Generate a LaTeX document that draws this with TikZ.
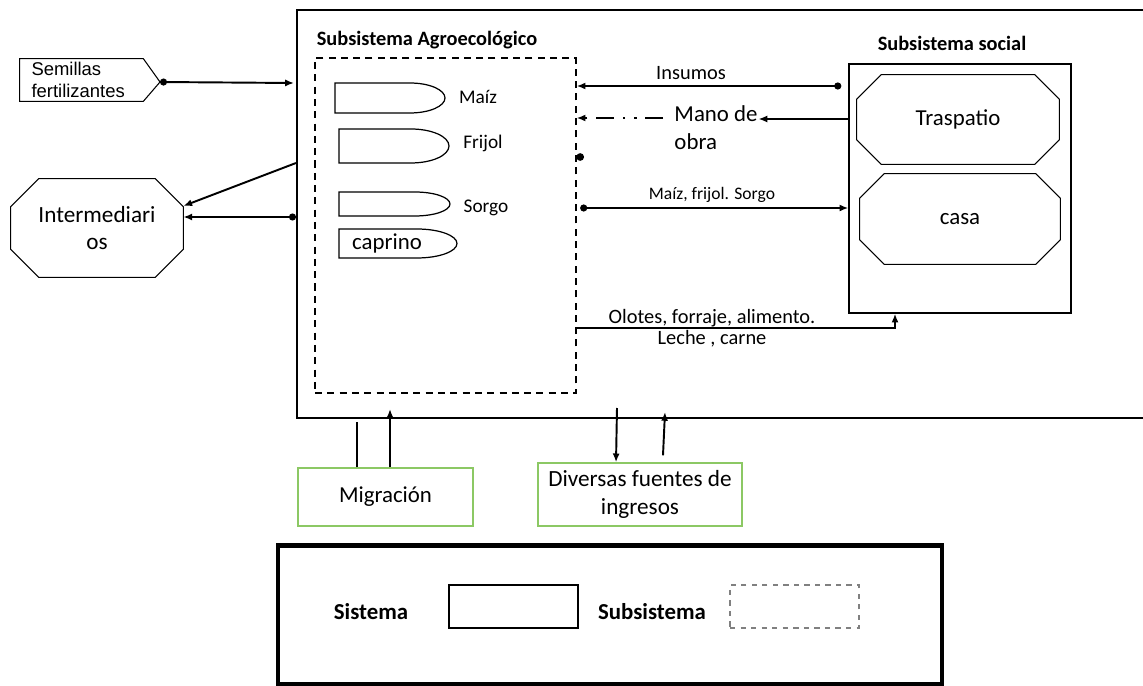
\documentclass[tikz,border=0pt]{standalone}
\usepackage{fontspec}
\setmainfont{Carlito}
\newfontfamily\arialfont{Liberation Sans}
\usetikzlibrary{arrows.meta}
\definecolor{verde}{RGB}{140,200,100}
% octagon drawn round a node: name, cut
\newcommand{\octagono}[2]{%
  \draw[line width=0.6pt] ([xshift=#2]#1.north west) -- ([xshift=-#2]#1.north east)
    -- ([yshift=-#2]#1.north east) -- ([yshift=#2]#1.south east)
    -- ([xshift=-#2]#1.south east) -- ([xshift=#2]#1.south west)
    -- ([yshift=#2]#1.south west) -- ([yshift=-#2]#1.north west) -- cycle;}
% crop shape: left, top, bottom, start of curve, x radius
\newcommand{\bala}[5]{%
  \draw[line width=0.7pt] (#1,#3) -- (#1,#2) -- (#4,#2)
    arc[start angle=90, end angle=-90, x radius=#5, y radius={(#3-#2)*0.01cm}] -- cycle;}
\begin{document}
\begin{tikzpicture}[x=0.02cm,y=-0.02cm]
\tikzstyle{flecha}=[line width=1.1pt,-{Latex[length=5pt,width=4pt]}]
\tikzstyle{puntoflecha}=[line width=1.1pt,{Circle[length=4pt]}-{Latex[length=5pt,width=4pt]}]
\tikzstyle{titulo}=[font=\fontsize{11.6}{13}\selectfont\bfseries]
\tikzstyle{texto}=[font=\fontsize{13}{16}\selectfont, align=center]
\tikzstyle{chico}=[font=\fontsize{11.6}{13}\selectfont, inner sep=1pt]
\tikzstyle{verdecaja}=[draw=verde, line width=0.8pt, texto]
\useasboundingbox (0,0) rectangle (1143,686);
% system
\draw[line width=0.9pt] (1143,10) -- (297,10) -- (297,418) -- (1143,418);
\coordinate (semtip) at (160,82);
\coordinate (sisA) at (294,83);
\coordinate (sisB) at (296,163);
\coordinate (sisC) at (296,217);
\coordinate (sisD) at (357,422);
\coordinate (sisE) at (390,409);
\coordinate (sisF) at (617,408);
\coordinate (sisG) at (665,412);
% agroecological subsystem
\node (agrotit) [titulo] at (427,40) {Subsistema Agroecológico};
\node (agro) [draw, line width=0.8pt, dash pattern=on 4pt off 3pt,
  minimum width=5.22cm, minimum height=6.7cm] at (445.5,225.5) {};
\bala{335}{83}{113}{410}{0.7cm}
\bala{339}{129}{163}{411}{0.76cm}
\bala{339}{192}{216}{415}{0.7cm}
\bala{339}{229}{258}{417}{0.8cm}
\node (maiz) [chico, font=\fontsize{11}{13}\selectfont] at (478,97) {Maíz};
\node (frijol) [chico, font=\fontsize{11}{13}\selectfont] at (483,143) {Frijol};
\node (sorgo) [chico, font=\fontsize{11}{13}\selectfont] at (486,208) {Sorgo};
\node (caprino) [texto] at (387,243) {caprino};
% social subsystem
\node (socialtit) [titulo] at (952,43) {Subsistema social};
\node (social) [draw, line width=0.8pt, minimum width=4.44cm, minimum height=4.98cm] at (960,188.5) {};
\node (traspatio) [texto, minimum width=4.04cm, minimum height=1.78cm] at (958,119.5) {Traspatio};
\node (casa) [texto, minimum width=4.0cm, minimum height=1.8cm] at (960,219) {casa};
\octagono{traspatio}{14pt}
\octagono{casa}{14pt}
% outside
\node (semillas) [font=\arialfont\fontsize{10.5}{12.5}\selectfont, align=left, text width=2.0cm,
  inner sep=0pt, minimum width=2.46cm, minimum height=0.84cm] at (81.5,80) {Semillas\\fertilizantes};
\draw[line width=0.6pt] (semillas.north west) -- (semillas.north east) -- (semtip)
  -- (semillas.south east) -- (semillas.south west) -- cycle;
\node (intermediarios) [texto, font=\fontsize{13.2}{15.5}\selectfont,
  minimum width=3.44cm, minimum height=1.96cm] at (97,228) {Intermediari\\os};
\octagono{intermediarios}{16pt}
\node (migracion) [verdecaja, minimum width=3.5cm, minimum height=1.16cm] at (385.5,497) {Migración};
\node (fuentes) [verdecaja, font=\fontsize{13.2}{16}\selectfont, minimum width=4.08cm, minimum height=1.26cm] at (640,494.5) {Diversas fuentes de\\ingresos};
% flows
\node (insumos) [chico] at (691,73) {Insumos};
\node (mano) [texto, font=\fontsize{13}{16}\selectfont, align=left] at (716,128) {Mano de\\obra};
\node (granos) [chico, font=\fontsize{10}{12}\selectfont] at (712,195) {Maíz, frijol. Sorgo};
\node (olotes) [chico] at (712,318) {Olotes, forraje, alimento.};
\node (leche) [chico] at (712,339) {Leche , carne};
\draw[puntoflecha] (semtip) -- (sisA);
\draw[flecha] (sisB) -- (intermediarios.east |- 0,206);
\draw[puntoflecha] (sisC) -- (intermediarios.east |- 0,217);
\draw[puntoflecha] ([xshift=-4pt]social.west |- 0,86) -- (agro.east |- 0,86);
\draw[flecha] (social.west |- 0,119) -- ([xshift=-3pt]mano.east |- 0,119);
\draw[flecha, dash pattern=on 10pt off 5pt on 1.5pt off 5pt on 1.5pt off 5pt] ([xshift=-3pt]mano.west |- 0,118) -- (agro.east |- 0,118);
\fill ([xshift=2pt]agro.east |- 0,157) circle (2.2pt);
\draw[puntoflecha] ([xshift=2pt]agro.east |- 0,208) -- (social.west |- 0,208);
\draw[flecha] (agro.east |- 0,328) -| (social.south -| 895,0);
\draw[line width=1.1pt] (migracion.north -| 357,0) -- (sisD);
\draw[flecha] (migracion.north -| 390,0) -- (sisE);
\draw[flecha] (sisF) -- (fuentes.north -| 616,0);
\draw[flecha] ([yshift=4pt]fuentes.north -| 663,0) -- (sisG);
% legend
\node (leyenda) [draw, line width=2.6pt, minimum width=13.28cm, minimum height=2.78cm] at (610,615) {};
\node (sistemalbl) [titulo, font=\fontsize{13}{15}\selectfont\bfseries] at (371,612) {Sistema};
\node (sistemaej) [draw, line width=0.6pt, minimum width=2.58cm, minimum height=0.86cm] at (513.5,606.5) {};
\node (subsislbl) [titulo, font=\fontsize{13}{15}\selectfont\bfseries] at (652,612) {Subsistema};
\node (subsisej) [draw=gray, dashed, line width=0.6pt, minimum width=2.58cm, minimum height=0.86cm] at (794.5,606.5) {};
\end{tikzpicture}
\end{document}
